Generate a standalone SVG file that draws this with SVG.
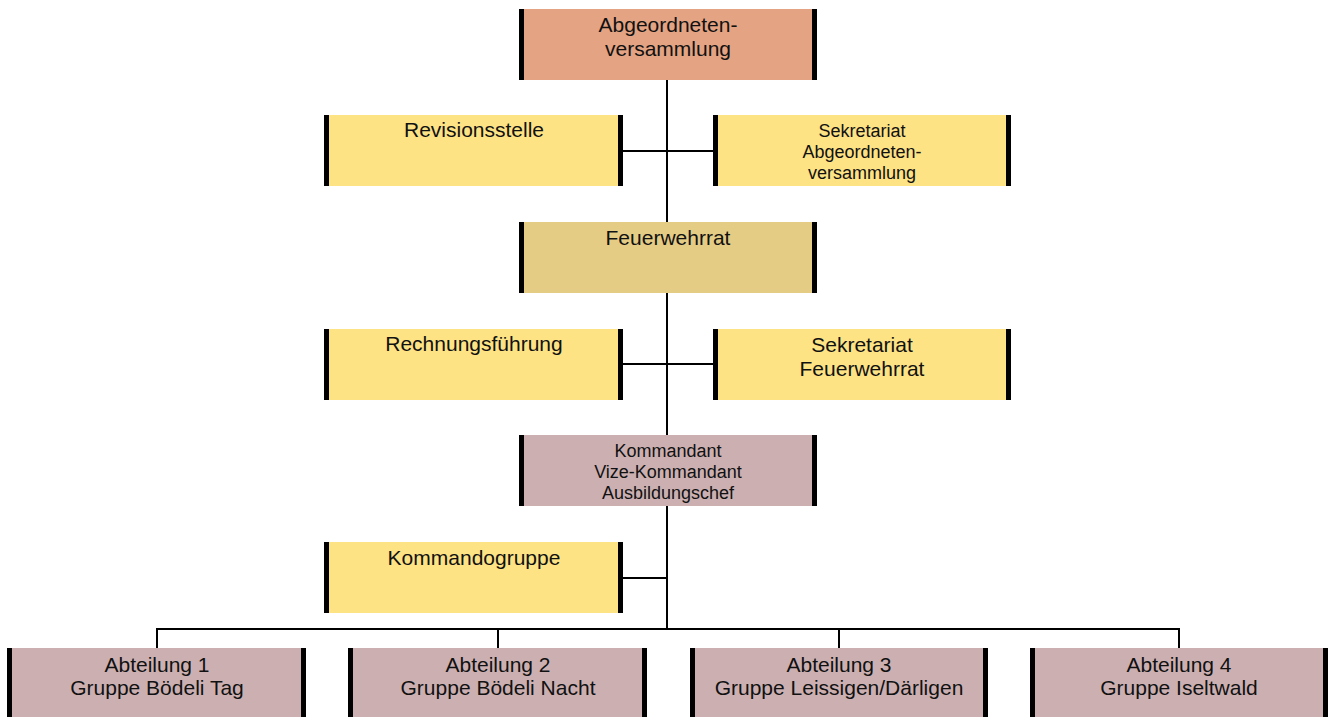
<svg xmlns="http://www.w3.org/2000/svg" width="1333" height="717" viewBox="0 0 1333 717">
<style>
.box{stroke:none}
.bar{fill:#000}
.t{font-family:"Liberation Sans",Arial,sans-serif;font-size:21px;fill:#111;text-anchor:middle}
.s{font-size:18px}
.c{stroke:#000;stroke-width:2;fill:none}
.salmon{fill:#E4A382}
.yellow{fill:#FEE385}
.tan{fill:#E5CC85}
.mauve{fill:#CCB0B1}
</style>
<rect width="1333" height="717" fill="#fff"/>
<g id="connectors">
<path class="c" d="M667,80V629"/>
<path class="c" d="M623,151H713"/>
<path class="c" d="M623,364H713"/>
<path class="c" d="M623,578H667"/>
<path class="c" d="M157,629H1179"/>
<path class="c" d="M157,628V648M498,628V648M839,628V648M1179,628V648"/>
</g>
<g id="abgeordnetenversammlung">
<rect class="box salmon" x="519" y="9" width="298" height="71"/>
<rect class="bar" x="519" y="9" width="5" height="71"/><rect class="bar" x="812" y="9" width="5" height="71"/>
<text class="t" x="668" y="32">Abgeordneten-</text>
<text class="t" x="668" y="56">versammlung</text>
</g>
<g id="revisionsstelle">
<rect class="box yellow" x="324" y="115" width="299" height="71"/>
<rect class="bar" x="324" y="115" width="5" height="71"/><rect class="bar" x="618" y="115" width="5" height="71"/>
<text class="t" x="474" y="137">Revisionsstelle</text>
</g>
<g id="sekretariat-av">
<rect class="box yellow" x="713" y="115" width="298" height="71"/>
<rect class="bar" x="713" y="115" width="5" height="71"/><rect class="bar" x="1006" y="115" width="5" height="71"/>
<text class="t s" x="862" y="137">Sekretariat</text>
<text class="t s" x="862" y="158">Abgeordneten-</text>
<text class="t s" x="862" y="179">versammlung</text>
</g>
<g id="feuerwehrrat">
<rect class="box tan" x="519" y="222" width="298" height="71"/>
<rect class="bar" x="519" y="222" width="5" height="71"/><rect class="bar" x="812" y="222" width="5" height="71"/>
<text class="t" x="668" y="245">Feuerwehrrat</text>
</g>
<g id="rechnungsfuehrung">
<rect class="box yellow" x="324" y="329" width="299" height="71"/>
<rect class="bar" x="324" y="329" width="5" height="71"/><rect class="bar" x="618" y="329" width="5" height="71"/>
<text class="t" x="474" y="351">Rechnungsführung</text>
</g>
<g id="sekretariat-fr">
<rect class="box yellow" x="713" y="329" width="298" height="71"/>
<rect class="bar" x="713" y="329" width="5" height="71"/><rect class="bar" x="1006" y="329" width="5" height="71"/>
<text class="t" x="862" y="352">Sekretariat</text>
<text class="t" x="862" y="376">Feuerwehrrat</text>
</g>
<g id="kommandant">
<rect class="box mauve" x="519" y="435" width="298" height="71"/>
<rect class="bar" x="519" y="435" width="5" height="71"/><rect class="bar" x="812" y="435" width="5" height="71"/>
<text class="t s" x="668" y="457">Kommandant</text>
<text class="t s" x="668" y="478">Vize-Kommandant</text>
<text class="t s" x="668" y="499">Ausbildungschef</text>
</g>
<g id="kommandogruppe">
<rect class="box yellow" x="324" y="542" width="299" height="71"/>
<rect class="bar" x="324" y="542" width="5" height="71"/><rect class="bar" x="618" y="542" width="5" height="71"/>
<text class="t" x="474" y="565">Kommandogruppe</text>
</g>
<g id="abteilung1">
<rect class="box mauve" x="7" y="648" width="299" height="71"/>
<rect class="bar" x="7" y="648" width="5" height="71"/><rect class="bar" x="301" y="648" width="5" height="71"/>
<text class="t" x="157" y="672">Abteilung 1</text>
<text class="t" x="157" y="695">Gruppe Bödeli Tag</text>
</g>
<g id="abteilung2">
<rect class="box mauve" x="348" y="648" width="299" height="71"/>
<rect class="bar" x="348" y="648" width="5" height="71"/><rect class="bar" x="642" y="648" width="5" height="71"/>
<text class="t" x="498" y="672">Abteilung 2</text>
<text class="t" x="498" y="695">Gruppe Bödeli Nacht</text>
</g>
<g id="abteilung3">
<rect class="box mauve" x="690" y="648" width="298" height="71"/>
<rect class="bar" x="690" y="648" width="5" height="71"/><rect class="bar" x="983" y="648" width="5" height="71"/>
<text class="t" x="839" y="672">Abteilung 3</text>
<text class="t" x="839" y="695">Gruppe Leissigen/Därligen</text>
</g>
<g id="abteilung4">
<rect class="box mauve" x="1030" y="648" width="298" height="71"/>
<rect class="bar" x="1030" y="648" width="5" height="71"/><rect class="bar" x="1323" y="648" width="5" height="71"/>
<text class="t" x="1179" y="672">Abteilung 4</text>
<text class="t" x="1179" y="695">Gruppe Iseltwald</text>
</g>
</svg>
